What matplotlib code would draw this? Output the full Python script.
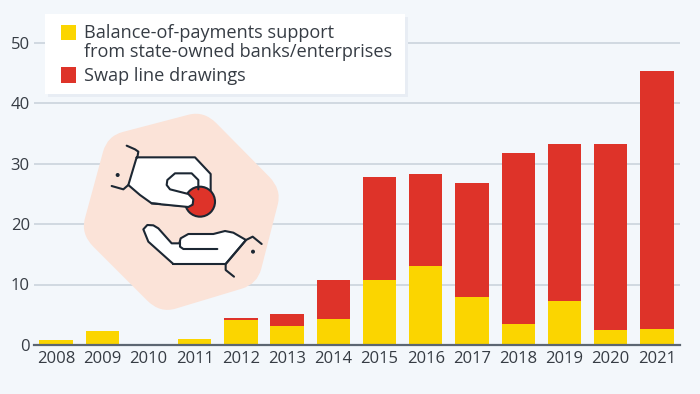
import matplotlib
matplotlib.use("Agg")
import matplotlib.pyplot as plt
from matplotlib.patches import Circle, PathPatch, Polygon, Rectangle
from matplotlib.path import Path

plt.rcParams["font.family"] = ["Open Sans", "DejaVu Sans"]

years = ["2008", "2009", "2010", "2011", "2012", "2013", "2014",
         "2015", "2016", "2017", "2018", "2019", "2020", "2021"]
bop_support = [0.8, 2.3, 0, 1.0, 4.2, 3.2, 4.3, 10.8, 13.0, 8.0, 3.5, 7.2, 2.5, 2.6]
swap_lines = [0, 0, 0, 0, 0.3, 1.9, 6.5, 16.9, 15.3, 18.7, 28.2, 26.1, 30.7, 42.7]
y_ticks = [0, 10, 20, 30, 40, 50]

BG = "#f3f7fb"
YELLOW = "#fbd500"
RED = "#de3329"
TEXT = "#363c44"
GRID = "#cbd3dc"
INK = "#1c2733"

fig = plt.figure(figsize=(7, 3.94), dpi=100, facecolor=BG)

# axes placed so that 0 is at y=345px, 50 at y=42.5px
ax = fig.add_axes([34 / 700, 1 - 345 / 394, (680 - 34) / 700, (345 - 10) / 394], facecolor=BG)
x = list(range(len(years)))
ax.bar(x, bop_support, width=0.72, color=YELLOW, zorder=3)
ax.bar(x, swap_lines, width=0.72, bottom=bop_support, color=RED, zorder=3)
ax.set_xlim(-0.476, 13.5)
ax.set_ylim(0, 335 / 6.05)
ax.set_xticks(x)
ax.set_xticklabels(years)
ax.set_yticks(y_ticks)
ax.grid(axis="y", color=GRID, lw=1.2, zorder=1)
ax.tick_params(axis="both", length=0, labelsize=12, labelcolor=TEXT)
ax.tick_params(axis="x", pad=4)
ax.tick_params(axis="y", pad=3)
for name in ["top", "right", "left"]:
    ax.spines[name].set_visible(False)
ax.spines["bottom"].set_color("#5c6672")
ax.spines["bottom"].set_linewidth(1.6)
ax.spines["bottom"].set_zorder(4)

# overlay in pixel coordinates for legend box and illustration
ov = fig.add_axes([0, 0, 1, 1], facecolor="none")
ov.set_xlim(0, 700)
ov.set_ylim(394, 0)
ov.axis("off")

# legend
ov.add_patch(Rectangle((48, 17), 360, 80, fc="#e8edf4", ec="none"))
ov.add_patch(Rectangle((45, 14), 360, 80, fc="white", ec="none"))
ov.add_patch(Rectangle((60.5, 24.5), 15.5, 15.5, fc=YELLOW, ec="none"))
ov.add_patch(Rectangle((60.5, 67), 15.5, 15.5, fc=RED, ec="none"))
ov.text(84.5, 32.5, "Balance-of-payments support", fontsize=13.1, color=TEXT, va="center")
ov.text(84.5, 52, "from state-owned banks/enterprises", fontsize=13.1, color=TEXT, va="center")
ov.text(84.5, 75.5, "Swap line drawings", fontsize=13.1, color=TEXT, va="center")


def px(pts):
    return [(60 + a / 3, 100 + b / 3) for a, b in pts]


def rounded(pts, r=0.16):
    # closed polygon with rounded corners
    verts, codes = [], []
    n = len(pts)
    for i in range(n):
        a, b, c = pts[i - 1], pts[i], pts[(i + 1) % n]
        p0 = (b[0] + (a[0] - b[0]) * r, b[1] + (a[1] - b[1]) * r)
        p1 = (b[0] + (c[0] - b[0]) * r, b[1] + (c[1] - b[1]) * r)
        verts.append(p0)
        codes.append(Path.MOVETO if i == 0 else Path.LINETO)
        verts += [b, p1]
        codes += [Path.CURVE3, Path.CURVE3]
    verts.append(verts[0])
    codes.append(Path.CLOSEPOLY)
    return Path(verts, codes)


def stroke(pts, fill="none", z=6):
    ov.add_patch(PathPatch(Path(px(pts)), fc=fill, ec=INK, lw=1.5, zorder=z,
                           joinstyle="round", capstyle="round"))


blob = [(432, 32), (665, 268), (592, 552), (300, 640), (62, 402), (142, 108)]
ov.add_patch(PathPatch(rounded(px(blob)), fc="#fbe3d8", ec="none", zorder=5))

# upper hand
stroke([(230, 172), (405, 172), (452, 222), (452, 272), (395, 320), (275, 310),
        (240, 285), (205, 255), (230, 172)], fill="white")
stroke([(232, 172), (235, 155), (225, 148), (200, 137)])
stroke([(205, 255), (190, 268), (155, 258)])
ov.add_patch(Circle(px([(420, 305)])[0], 15, fc=RED, ec=INK, lw=1.5, zorder=7))
# finger tip sits on top of the coin
ov.add_patch(Polygon(px([(330, 268), (385, 282), (400, 300), (392, 320), (300, 314)]),
                     fc="white", ec="none", zorder=8))
stroke([(415, 268), (415, 240), (395, 220), (345, 220), (322, 240), (320, 255), (330, 268),
        (385, 282), (400, 298), (398, 314), (385, 321), (275, 310)], z=9)
ov.add_patch(Circle(px([(173, 225)])[0], 2.0, fc=INK, ec="none", zorder=8))

# lower hand
stroke([(340, 492), (497, 492), (558, 420), (520, 398), (495, 393), (460, 402), (385, 402),
        (362, 415), (358, 430), (335, 430), (295, 385), (280, 376), (262, 375), (250, 388),
        (265, 425), (340, 492)], fill="white")
stroke([(360, 425), (360, 440), (370, 447), (472, 447)])
stroke([(605, 432), (578, 410), (558, 420), (497, 492), (497, 510), (522, 530)])
ov.add_patch(Circle(px([(579, 455)])[0], 2.0, fc=INK, ec="none", zorder=8))

fig.savefig("out.png", dpi=100, facecolor=BG)
